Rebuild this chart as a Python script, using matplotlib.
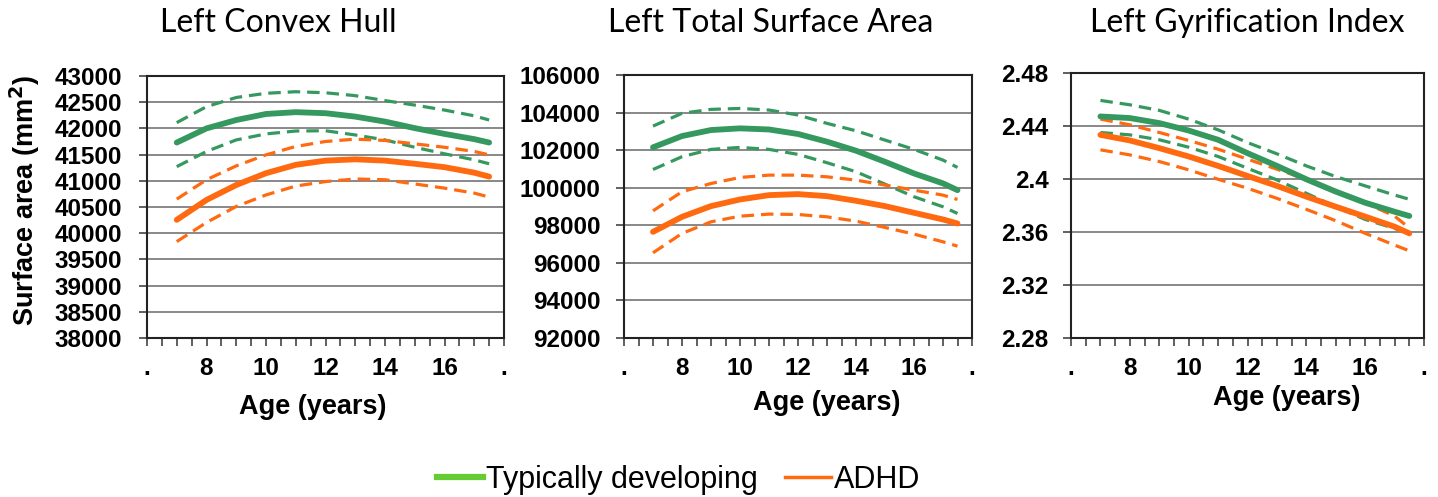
#!/usr/bin/env python3
"""
Left hemisphere developmental trajectories: TD vs ADHD (mean +/- CI).
"""

import numpy as np
import matplotlib
matplotlib.use("Agg")
import matplotlib.pyplot as plt
from matplotlib.lines import Line2D

age = [7, 8, 9, 10, 11, 12, 13, 14, 15, 16, 17, 17.5]

# Left Convex Hull (mm^2)
hull_td = [41730, 42000, 42160, 42275, 42310, 42290, 42225, 42130, 42005, 41895, 41795, 41730]
hull_td_hi = [42110, 42415, 42590, 42670, 42700, 42680, 42625, 42530, 42445, 42350, 42240, 42160]
hull_td_lo = [41270, 41560, 41780, 41895, 41950, 41955, 41875, 41780, 41640, 41515, 41400, 41325]
hull_adhd = [40255, 40635, 40920, 41145, 41305, 41385, 41410, 41385, 41325, 41260, 41155, 41080]
hull_adhd_hi = [40650, 41020, 41285, 41495, 41655, 41750, 41795, 41770, 41705, 41640, 41560, 41495]
hull_adhd_lo = [39840, 40205, 40510, 40730, 40900, 40985, 41035, 41020, 40940, 40860, 40765, 40690]

# Left Total Surface Area (mm^2)
tsa_td = [102150, 102750, 103070, 103160, 103100, 102860, 102450, 101970, 101380, 100760, 100230, 99870]
tsa_td_hi = [103280, 103960, 104170, 104220, 104135, 103870, 103425, 103030, 102535, 102040, 101470, 101080]
tsa_td_lo = [100970, 101650, 102040, 102145, 102040, 101775, 101330, 100850, 100190, 99520, 98985, 98630]
tsa_adhd = [97650, 98450, 99020, 99375, 99605, 99660, 99550, 99305, 99020, 98665, 98310, 98095]
tsa_adhd_hi = [98770, 99785, 100225, 100545, 100670, 100670, 100580, 100405, 100140, 99870, 99605, 99375]
tsa_adhd_lo = [96535, 97565, 98185, 98485, 98595, 98575, 98450, 98220, 97885, 97530, 97120, 96890]

# Left Gyrification Index
gi_td = [2.4472, 2.4460, 2.4422, 2.4366, 2.4296, 2.4195, 2.4099, 2.3998, 2.3905, 2.3821, 2.3753, 2.3721]
gi_td_hi = [2.4593, 2.4560, 2.4518, 2.4452, 2.4371, 2.4275, 2.4190, 2.4099, 2.4018, 2.3948, 2.3879, 2.3847]
gi_td_lo = [2.4351, 2.4333, 2.4296, 2.4240, 2.4170, 2.4081, 2.3993, 2.3892, 2.3791, 2.3695, 2.3627, 2.3594]
gi_adhd = [2.4333, 2.4291, 2.4233, 2.4170, 2.4099, 2.4023, 2.3948, 2.3867, 2.3791, 2.3716, 2.3640, 2.3590]
gi_adhd_hi = [2.4452, 2.4409, 2.4351, 2.4291, 2.4225, 2.4150, 2.4074, 2.3998, 2.3905, 2.3820, 2.3720, 2.3630]
gi_adhd_lo = [2.4220, 2.4182, 2.4132, 2.4069, 2.3998, 2.3930, 2.3854, 2.3771, 2.3685, 2.3590, 2.3501, 2.3458]

titles = ["Left Convex Hull", "Left Total Surface Area", "Left Gyrification Index"]
xtick_vals = [6, 8, 10, 12, 14, 16, 18]
xtick_labels = [".", "8", "10", "12", "14", "16", "."]
hull_yticks = [38000, 38500, 39000, 39500, 40000, 40500, 41000, 41500, 42000, 42500, 43000]
tsa_yticks = [92000, 94000, 96000, 98000, 100000, 102000, 104000, 106000]
gi_yticks = [2.28, 2.32, 2.36, 2.4, 2.44, 2.48]
gi_ylabels = ["2.28", "2.32", "2.36", "2.4", "2.44", "2.48"]

GREEN = "#35995f"
ORANGE = "#ff6a10"

plt.rcParams['font.family'] = ['Liberation Sans', 'DejaVu Sans']
plt.rcParams['lines.scale_dashes'] = False

fig = plt.figure(figsize=(14.38, 4.97), dpi=100)

# axes boxes in pixels (left, top, right, bottom) from the reference
boxes = [(147, 76, 504, 338), (624, 75, 972, 338), (1071, 73, 1424, 338)]
W, H = 1438.0, 497.0

panels = [
    (hull_td, hull_td_hi, hull_td_lo, hull_adhd, hull_adhd_hi, hull_adhd_lo, hull_yticks, None, 12),
    (tsa_td, tsa_td_hi, tsa_td_lo, tsa_adhd, tsa_adhd_hi, tsa_adhd_lo, tsa_yticks, None, 11),
    (gi_td, gi_td_hi, gi_td_lo, gi_adhd, gi_adhd_hi, gi_adhd_lo, gi_yticks, gi_ylabels, 10),
]

dash = (0, (9, 5))
for (l, t, r, b), (td, td_hi, td_lo, ad, ad_hi, ad_lo, yt, ylab, ypad) in zip(boxes, panels):
    ax = fig.add_axes([l / W, 1 - b / H, (r - l) / W, (b - t) / H])
    ax.plot(age, td_hi, color=GREEN, lw=2.3, ls=dash, zorder=3)
    ax.plot(age, td_lo, color=GREEN, lw=2.3, ls=dash, zorder=3)
    ax.plot(age, ad_hi, color=ORANGE, lw=2.3, ls=dash, zorder=3)
    ax.plot(age, ad_lo, color=ORANGE, lw=2.3, ls=dash, zorder=3)
    ax.plot(age, td, color=GREEN, lw=4.2, zorder=4, solid_capstyle='round')
    ax.plot(age, ad, color=ORANGE, lw=4.2, zorder=4, solid_capstyle='round')

    ax.set_xlim(6, 18)
    ax.set_ylim(yt[0], yt[-1])
    ax.set_xticks(xtick_vals)
    ax.set_xticklabels(xtick_labels)
    ax.set_xticks(np.arange(6, 18.01, 0.5), minor=True)
    ax.set_yticks(yt)
    if ylab is not None:
        ax.set_yticklabels(ylab)
    ax.grid(axis='y', color='#7f7f7f', lw=1.3)
    ax.set_axisbelow(True)
    for s in ax.spines.values():
        s.set_color('#222222')
        s.set_linewidth(1.5)
    ax.tick_params(axis='x', which='both', direction='out', length=6, width=1.2,
                   color='#444444', pad=8)
    ax.tick_params(axis='y', direction='out', length=6, width=1.2, color='#444444', pad=ypad)
    for lab in ax.get_xticklabels() + ax.get_yticklabels():
        lab.set_fontsize(17.5)
        lab.set_fontweight('bold')

# panel titles
for x, txt in zip([278, 771, 1247], titles):
    fig.text(x / W, 1 - 23 / H, txt, ha='center', va='center', fontsize=23,
             family=['Lato', 'DejaVu Sans'])

# axis labels
for x, y in zip([313, 827, 1287], [407, 403, 398]):
    fig.text(x / W, 1 - y / H, "Age (years)", ha='center', va='center',
             fontsize=19.5, fontweight='bold')
fig.text(25 / W, 1 - 200 / H, "Surface area (mm$^\\mathbf{2}$)", rotation=90,
         ha='center', va='center', fontsize=19.5, fontweight='bold')

# legend at the bottom
handles = [Line2D([], [], color='#66cc33', lw=4.5),
           Line2D([], [], color=ORANGE, lw=2.5)]
fig.legend(handles, ["Typically developing", "ADHD"], loc='center',
           bbox_to_anchor=(679 / W, 1 - 480 / H), ncol=2, frameon=False,
           fontsize=22, handlelength=1.5, handletextpad=0.1, columnspacing=0.9)

fig.savefig("out.png", dpi=100)
